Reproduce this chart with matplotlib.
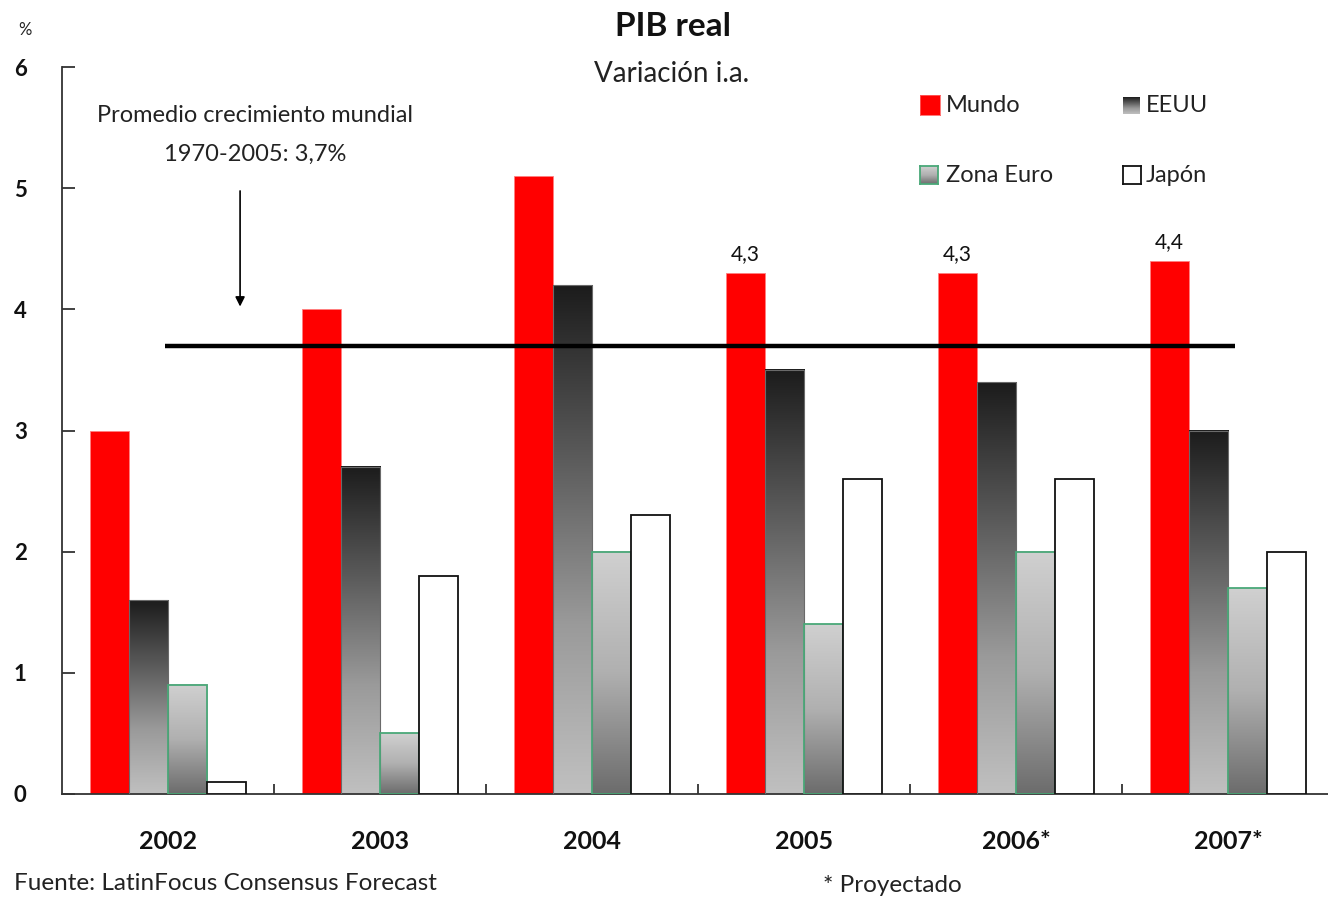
import numpy as np
import matplotlib
matplotlib.use("Agg")
import matplotlib.pyplot as plt
from matplotlib.colors import LinearSegmentedColormap

plt.rcParams['font.family'] = ['Lato', 'DejaVu Sans']

years = ["2002", "2003", "2004", "2005", "2006*", "2007*"]
mundo = [3.0, 4.0, 5.1, 4.3, 4.3, 4.4]
eeuu = [1.6, 2.7, 4.2, 3.5, 3.4, 3.0]
zona_euro = [0.9, 0.5, 2.0, 1.4, 2.0, 1.7]
japon = [0.1, 1.8, 2.3, 2.6, 2.6, 2.0]
promedio = 3.7
labeled = {3: "4,3", 4: "4,3", 5: "4,4"}

W, H = 1328, 899
fig = plt.figure(figsize=(W / 100, H / 100), dpi=100)
ax = fig.add_axes([62 / W, 1 - 794 / H, (W - 62) / W, (794 - 67) / H])

x = np.arange(len(years))
w = 0.184
cm_us = LinearSegmentedColormap.from_list("us", ["#1c1c1c", "#5a5a5a", "#9a9a9a", "#c0c0c0"])
cm_eu = LinearSegmentedColormap.from_list("eu", ["#d0d0d0", "#b0b0b0", "#6c6c6c"])
grad = np.linspace(0, 1, 256).reshape(-1, 1)

b1 = ax.bar(x - 1.5 * w, mundo, w, color="#ff0000", edgecolor="#ff8080", linewidth=0.6, zorder=2)
b2 = ax.bar(x - 0.5 * w, eeuu, w, facecolor="none", edgecolor="#6a6a6a", linewidth=0.8, zorder=3)
b3 = ax.bar(x + 0.5 * w, zona_euro, w, facecolor="none", edgecolor="#4aa878", linewidth=1.3, zorder=3)
b4 = ax.bar(x + 1.5 * w, japon, w, color="white", edgecolor="#111111", linewidth=1.3, zorder=3)

for bars, cmap in ((b2, cm_us), (b3, cm_eu)):
    for p in bars:
        x0, h = p.get_x(), p.get_height()
        ax.imshow(grad, extent=[x0, x0 + p.get_width(), 0, h], aspect="auto",
                  cmap=cmap, origin="upper", zorder=2.5, interpolation="bilinear")

ax.set_xlim(-0.5, -0.5 + (W - 62) / 212)
ax.set_ylim(0, 6)

for i, t in labeled.items():
    ax.text(x[i] - 1.5 * w, mundo[i] + 0.07, t, ha="center", va="bottom", fontsize=15, color="#111111")

# average line
ax.plot([-0.015, 5.035], [promedio, promedio], color="black", lw=3.2, solid_capstyle="butt", zorder=4)

ax.annotate("", xy=(0.34, 4.0), xytext=(0.34, 5.0),
            arrowprops=dict(arrowstyle="-|>", color="black", lw=1.2, mutation_scale=14), zorder=5)
ax.text(0.41, 5.6, "Promedio crecimiento mundial", ha="center", va="center", fontsize=17, color="#222222")
ax.text(0.41, 5.28, "1970-2005: 3,7%", ha="center", va="center", fontsize=17, color="#222222")

# axes styling
for s in ("top", "right"):
    ax.spines[s].set_visible(False)
for s in ("left", "bottom"):
    ax.spines[s].set_color("#333333")
    ax.spines[s].set_linewidth(1.3)
ax.set_yticks(range(0, 7))
ax.set_yticklabels([str(v) for v in range(0, 7)], fontsize=16, fontweight="bold", color="#111111")
ax.tick_params(axis="y", direction="in", length=9, width=1.3, color="#333333", pad=30)
for lab in ax.get_yticklabels():
    lab.set_horizontalalignment("center")
ax.set_xticks(x)
ax.set_xticklabels(years, fontsize=18, fontweight="bold", color="#111111")
ax.tick_params(axis="x", length=0, pad=26)
ax.set_xticks(x[:-1] + 0.5, minor=True)
ax.tick_params(axis="x", which="minor", direction="in", length=7, width=1.3, color="#333333")

# titles and notes
fig.text(673 / W, 1 - 26 / H, "PIB real", ha="center", va="center", fontsize=24, fontweight="bold", color="#111111")
fig.text(672 / W, 1 - 74 / H, "Variación i.a.", ha="center", va="center", fontsize=20, color="#222222")
fig.text(25 / W, 1 - 30 / H, "%", ha="center", va="center", fontsize=12, color="#222222")
fig.text(14 / W, 1 - 883 / H, "Fuente: LatinFocus Consensus Forecast", ha="left", va="center", fontsize=17.5, color="#222222")
fig.text(823 / W, 1 - 886 / H, "* Proyectado", ha="left", va="center", fontsize=17.5, color="#222222")

# legend (manual)
def swatch(px, py, size, kind):
    a = fig.add_axes([px / W, 1 - (py + size) / H, size / W, size / H])
    a.set_xticks([]); a.set_yticks([])
    if kind == "mundo":
        a.set_facecolor("#ff0000")
        for s in a.spines.values():
            s.set_color("#ff6060"); s.set_linewidth(0.6)
    elif kind == "us":
        a.imshow(grad, aspect="auto", cmap=cm_us, origin="upper", extent=[0, 1, 0, 1])
        for s in a.spines.values():
            s.set_visible(False)
    elif kind == "eu":
        a.imshow(grad, aspect="auto", cmap=cm_eu, origin="upper", extent=[0, 1, 0, 1])
        for s in a.spines.values():
            s.set_color("#4aa878"); s.set_linewidth(1.3)
    else:
        a.set_facecolor("white")
        for s in a.spines.values():
            s.set_color("#111111"); s.set_linewidth(1.3)

swatch(920, 95, 20, "mundo")
fig.text(946 / W, 1 - 105 / H, "Mundo", ha="left", va="center", fontsize=17, color="#222222")
swatch(1123, 97, 17, "us")
fig.text(1146 / W, 1 - 105 / H, "EEUU", ha="left", va="center", fontsize=17, color="#222222")
swatch(920, 166, 18, "eu")
fig.text(946 / W, 1 - 176 / H, "Zona Euro", ha="left", va="center", fontsize=17, color="#222222")
swatch(1123, 166, 18, "jp")
fig.text(1146 / W, 1 - 176 / H, "Japón", ha="left", va="center", fontsize=17, color="#222222")

fig.savefig("out.png", dpi=100)
